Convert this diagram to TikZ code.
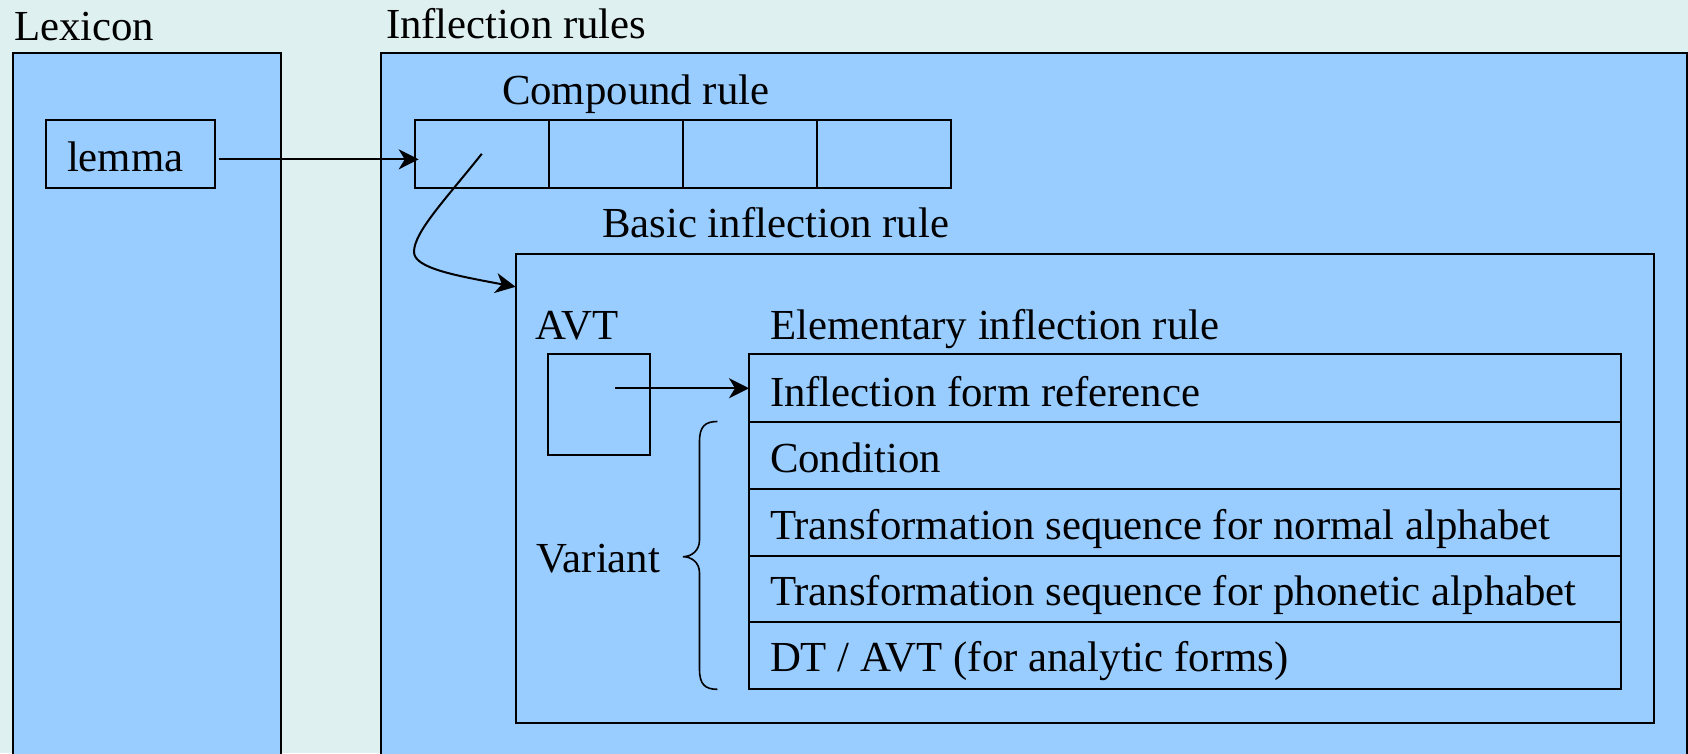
\documentclass[tikz,border=0pt]{standalone}
\usepackage{fontspec}
\setmainfont{Liberation Serif}
\usetikzlibrary{arrows.meta,calc}
\definecolor{bg}{RGB}{223,240,240}
\definecolor{boxblue}{RGB}{153,204,255}
\tikzset{
  box/.style={draw=black, line width=2pt, fill=boxblue, rectangle, inner sep=0pt, outer sep=0pt, anchor=north west},
  lbl/.style={anchor=base west, inner sep=0pt, outer sep=0pt, font=\fontsize{42.8pt}{50pt}\selectfont},
  arr/.style={line width=2pt, -{Stealth[length=20pt,width=20pt,inset=6pt]}},
  bracestyle/.style={line width=1.6pt}
}
\begin{document}
\begin{tikzpicture}[x=1pt,y=-1pt]
\useasboundingbox (0,0) rectangle (1688,753);
\clip (0,0) rectangle (1688,753);
\fill[bg] (0,0) rectangle (1688,753);

% outer containers
\node[box, minimum width=267.6pt, minimum height=760pt] (lex) at (13.4,53.3) {};
\node[box, minimum width=1305.7pt, minimum height=760pt] (infl) at (380.8,53.3) {};
\node[lbl] (lextitle) at (14,40.7) {Lexicon};
\node[lbl] (infltitle) at (386,38) {Inflection rules};

% lemma
\node[box, minimum width=168.3pt, minimum height=67.7pt] (lemma) at (46.4,120) {};
\node[lbl] (lemmatext) at (67,171.7) {lemma};

% compound rule
\node[lbl] (comptitle) at (502,104.3) {Compound rule};
\node[box, minimum width=134.1pt, minimum height=67.7pt] (c1) at (414.7,120) {};
\node[box, minimum width=134.1pt, minimum height=67.7pt] (c2) at (548.8,120) {};
\node[box, minimum width=134.1pt, minimum height=67.7pt] (c3) at (682.9,120) {};
\node[box, minimum width=134.1pt, minimum height=67.7pt] (c4) at (817,120) {};

% basic inflection rule
\node[lbl] (basictitle) at (602,237.3) {Basic inflection rule};
\node[box, minimum width=1138.4pt, minimum height=468.4pt] (basic) at (515.6,254.3) {};

% AVT
\node[lbl] (avttitle) at (535.7,339.3) {AVT};
\node[box, minimum width=101.3pt, minimum height=100.7pt] (avt) at (548.2,354.3) {};

% elementary inflection rule
\node[lbl] (elemtitle) at (770,339.3) {Elementary inflection rule};
\node[box, minimum width=871.7pt, minimum height=67.2pt] (r1) at (749,354.3) {};
\node[box, minimum width=871.7pt, minimum height=67.2pt] (r2) at (749,421.5) {};
\node[box, minimum width=871.7pt, minimum height=67.2pt] (r3) at (749,488.7) {};
\node[box, minimum width=871.7pt, minimum height=67.2pt] (r4) at (749,555.9) {};
\node[box, minimum width=871.7pt, minimum height=67.2pt] (r5) at (749,622.1) {};
\node[lbl] (t1) at (770,406) {Inflection form reference};
\node[lbl] (t2) at (770,472.7) {Condition};
\node[lbl] (t3) at (770,539.3) {Transformation sequence for normal alphabet};
\node[lbl] (t4) at (770,605) {Transformation sequence for phonetic alphabet};
\node[lbl] (t5) at (770,671.7) {DT / AVT (for analytic forms)};

% variant
\node[lbl] (variant) at (536.6,572.7) {Variant};
\coordinate (btop) at (r2.north west);
\coordinate (bbot) at (r5.south west);
\draw[bracestyle] ($(btop)+(-31.6,0)$) .. controls ($(btop)+(-44,0)$) and ($(btop)+(-49.5,5)$) .. ($(btop)+(-49.5,20)$)
  -- (699.5,540) .. controls (699.5,551) and (691,556.7) .. (683,556.7)
  .. controls (691,556.7) and (699.5,562) .. (699.5,573)
  -- ($(bbot)+(-49.5,-20)$) .. controls ($(bbot)+(-49.5,-5)$) and ($(bbot)+(-44,0)$) .. ($(bbot)+(-31.6,0)$);

% connectors
\coordinate (lemout) at ($(lemma.east)+(4,5.5)$);
\draw[arr, shorten >=-4pt] (lemout) -- (lemout -| c1.west);
\coordinate (bend) at ($(basic.north west)+(0,32.5)$);
\draw[arr] (c1.center) .. controls (445,200) and (414,232) .. (414,252)
  .. controls (414,268) and (455,275.5) .. (bend);
\coordinate (avtout) at ($(avt.center)+(16.4,-16.4)$);
\draw[arr] (avtout) -- (avtout -| r1.west);
\end{tikzpicture}
\end{document}
